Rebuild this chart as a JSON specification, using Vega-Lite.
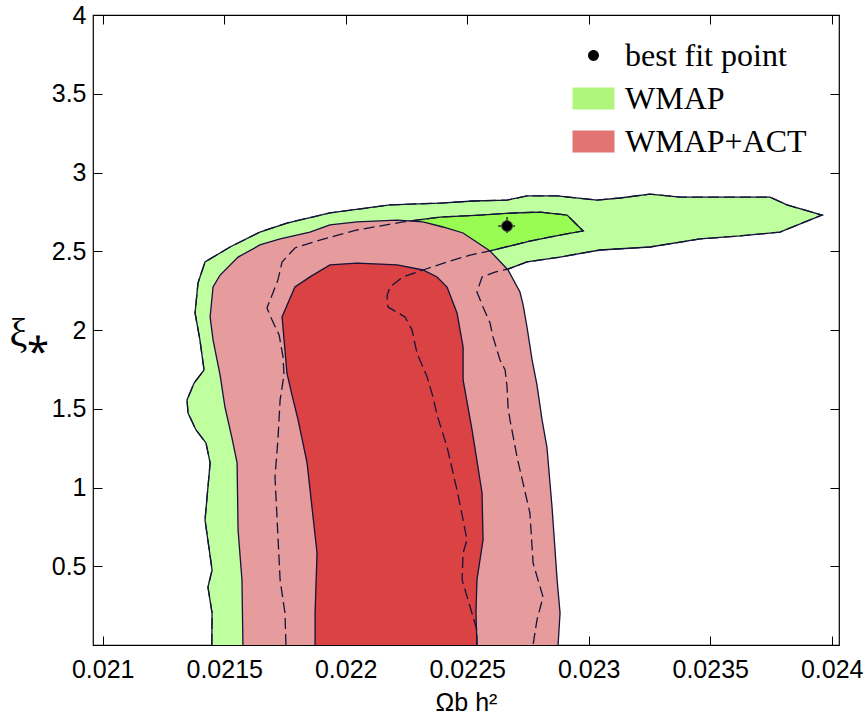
{
  "$schema": "https://vega.github.io/schema/vega-lite/v6.json",
  "width": 746,
  "height": 630,
  "autosize": {"type": "none"},
  "padding": {"left": 93, "top": 15, "right": 27, "bottom": 70},
  "background": "white",
  "datasets": {
    "g95": [
      {"i":1,"x":0.021449,"y":0},{"i":2,"x":0.02145,"y":0.203},{"i":3,"x":0.021433,"y":0.368},{"i":4,"x":0.02145,"y":0.476},
      {"i":5,"x":0.021421,"y":0.794},{"i":6,"x":0.021442,"y":1.156},{"i":7,"x":0.021425,"y":1.283},{"i":8,"x":0.021384,"y":1.365},
      {"i":9,"x":0.021351,"y":1.473},{"i":10,"x":0.021347,"y":1.556},{"i":11,"x":0.021376,"y":1.663},{"i":12,"x":0.021417,"y":1.746},
      {"i":13,"x":0.0214,"y":1.937},{"i":14,"x":0.02138,"y":2.108},{"i":15,"x":0.021392,"y":2.298},{"i":16,"x":0.021421,"y":2.432},
      {"i":17,"x":0.021524,"y":2.527},{"i":18,"x":0.021647,"y":2.622},{"i":19,"x":0.021758,"y":2.679},{"i":20,"x":0.021935,"y":2.743},
      {"i":21,"x":0.022182,"y":2.794},{"i":22,"x":0.022388,"y":2.806},{"i":23,"x":0.022524,"y":2.819},{"i":24,"x":0.022664,"y":2.825},
      {"i":25,"x":0.022746,"y":2.851},{"i":26,"x":0.02287,"y":2.851},{"i":27,"x":0.023034,"y":2.825},{"i":28,"x":0.023129,"y":2.838},
      {"i":29,"x":0.023252,"y":2.863},{"i":30,"x":0.023376,"y":2.844},{"i":31,"x":0.023512,"y":2.844},{"i":32,"x":0.023746,"y":2.844},
      {"i":33,"x":0.023816,"y":2.794},{"i":34,"x":0.02396,"y":2.73},{"i":35,"x":0.023787,"y":2.622},{"i":36,"x":0.023623,"y":2.597},
      {"i":37,"x":0.023458,"y":2.578},{"i":38,"x":0.023252,"y":2.527},{"i":39,"x":0.023046,"y":2.508},{"i":40,"x":0.022882,"y":2.463},
      {"i":41,"x":0.022746,"y":2.432},{"i":42,"x":0.022668,"y":2.387},{"i":43,"x":0.022614,"y":2.368},{"i":44,"x":0.022561,"y":2.337},
      {"i":45,"x":0.02254,"y":2.241},{"i":46,"x":0.022565,"y":2.146},{"i":47,"x":0.022594,"y":2.044},{"i":48,"x":0.022606,"y":1.956},
      {"i":49,"x":0.022635,"y":1.81},{"i":50,"x":0.022656,"y":1.746},{"i":51,"x":0.022664,"y":1.638},{"i":52,"x":0.022668,"y":1.511},
      {"i":53,"x":0.022676,"y":1.429},{"i":54,"x":0.022705,"y":1.194},{"i":55,"x":0.022758,"y":0.838},{"i":56,"x":0.022771,"y":0.521},
      {"i":57,"x":0.022812,"y":0.305},{"i":58,"x":0.022787,"y":0.159},{"i":59,"x":0.022771,"y":0}
    ],
    "g68": [
      {"i":1,"x":0.021754,"y":0},{"i":2,"x":0.02175,"y":0.203},{"i":3,"x":0.02173,"y":0.413},{"i":4,"x":0.021709,"y":1.067},
      {"i":5,"x":0.021721,"y":1.302},{"i":6,"x":0.02173,"y":1.556},{"i":7,"x":0.021746,"y":1.714},{"i":8,"x":0.021742,"y":1.829},
      {"i":9,"x":0.021726,"y":1.968},{"i":10,"x":0.021697,"y":2.063},{"i":11,"x":0.021676,"y":2.14},{"i":12,"x":0.021721,"y":2.317},
      {"i":13,"x":0.021738,"y":2.432},{"i":14,"x":0.021791,"y":2.521},{"i":15,"x":0.021894,"y":2.571},{"i":16,"x":0.022047,"y":2.635},
      {"i":17,"x":0.022236,"y":2.686},{"i":18,"x":0.022388,"y":2.717},{"i":19,"x":0.022553,"y":2.73},{"i":20,"x":0.022689,"y":2.743},
      {"i":21,"x":0.0228,"y":2.749},{"i":22,"x":0.022911,"y":2.73},{"i":23,"x":0.022977,"y":2.629},{"i":24,"x":0.022882,"y":2.603},
      {"i":25,"x":0.022758,"y":2.565},{"i":26,"x":0.022594,"y":2.502},{"i":27,"x":0.022512,"y":2.476},{"i":28,"x":0.022417,"y":2.432},
      {"i":29,"x":0.022318,"y":2.381},{"i":30,"x":0.022236,"y":2.337},{"i":31,"x":0.022182,"y":2.273},{"i":32,"x":0.02217,"y":2.216},
      {"i":33,"x":0.022174,"y":2.146},{"i":34,"x":0.022244,"y":2.083},{"i":35,"x":0.022273,"y":2.0},{"i":36,"x":0.022293,"y":1.854},
      {"i":37,"x":0.022335,"y":1.702},{"i":38,"x":0.022359,"y":1.575},{"i":39,"x":0.022376,"y":1.46},{"i":40,"x":0.022417,"y":1.257},
      {"i":41,"x":0.022458,"y":0.984},{"i":42,"x":0.022483,"y":0.794},{"i":43,"x":0.022499,"y":0.667},{"i":44,"x":0.022483,"y":0.584},
      {"i":45,"x":0.022479,"y":0.413},{"i":46,"x":0.022512,"y":0.241},{"i":47,"x":0.02254,"y":0.095},{"i":48,"x":0.02254,"y":0}
    ],
    "r95": [
      {"i":1,"x":0.021577,"y":0},{"i":2,"x":0.021573,"y":0.413},{"i":3,"x":0.021557,"y":0.73},{"i":4,"x":0.021553,"y":1.156},
      {"i":5,"x":0.021532,"y":1.314},{"i":6,"x":0.021503,"y":1.511},{"i":7,"x":0.021483,"y":1.714},{"i":8,"x":0.021454,"y":1.937},
      {"i":9,"x":0.021442,"y":2.083},{"i":10,"x":0.021454,"y":2.273},{"i":11,"x":0.021483,"y":2.349},{"i":12,"x":0.021557,"y":2.463},
      {"i":13,"x":0.021647,"y":2.54},{"i":14,"x":0.02173,"y":2.578},{"i":15,"x":0.021853,"y":2.622},{"i":16,"x":0.021935,"y":2.667},
      {"i":17,"x":0.022047,"y":2.686},{"i":18,"x":0.022211,"y":2.698},{"i":19,"x":0.022318,"y":2.686},{"i":20,"x":0.0224,"y":2.654},
      {"i":21,"x":0.022483,"y":2.616},{"i":22,"x":0.022594,"y":2.502},{"i":23,"x":0.022668,"y":2.381},{"i":24,"x":0.022717,"y":2.241},
      {"i":25,"x":0.02273,"y":2.159},{"i":26,"x":0.022746,"y":2.019},{"i":27,"x":0.022767,"y":1.81},{"i":28,"x":0.022787,"y":1.651},
      {"i":29,"x":0.022808,"y":1.429},{"i":30,"x":0.022828,"y":1.257},{"i":31,"x":0.022849,"y":0.876},{"i":32,"x":0.02287,"y":0.413},
      {"i":33,"x":0.022882,"y":0.203},{"i":34,"x":0.022874,"y":0}
    ],
    "r68": [
      {"i":1,"x":0.021874,"y":0},{"i":2,"x":0.021874,"y":0.203},{"i":3,"x":0.021882,"y":0.584},{"i":4,"x":0.021841,"y":1.156},
      {"i":5,"x":0.021804,"y":1.429},{"i":6,"x":0.021779,"y":1.587},{"i":7,"x":0.021758,"y":1.727},{"i":8,"x":0.02175,"y":1.873},
      {"i":9,"x":0.021738,"y":2.083},{"i":10,"x":0.021791,"y":2.273},{"i":11,"x":0.021853,"y":2.337},{"i":12,"x":0.021935,"y":2.413},
      {"i":13,"x":0.022047,"y":2.425},{"i":14,"x":0.022211,"y":2.413},{"i":15,"x":0.022318,"y":2.381},{"i":16,"x":0.022376,"y":2.337},
      {"i":17,"x":0.022417,"y":2.273},{"i":18,"x":0.022458,"y":2.108},{"i":19,"x":0.022483,"y":1.892},{"i":20,"x":0.022483,"y":1.683},
      {"i":21,"x":0.02252,"y":1.365},{"i":22,"x":0.022561,"y":0.965},{"i":23,"x":0.022565,"y":0.667},{"i":24,"x":0.02254,"y":0.413},
      {"i":25,"x":0.022536,"y":0.203},{"i":26,"x":0.02254,"y":0}
    ],
    "best": [
      {"s":"best fit point","x":0.022664,"y":2.66,"xlo":0.022627,"xhi":0.022697,"ylo":2.616,"yhi":2.717}
    ]
  },
  "layer": [
    {
      "encoding": {
        "x": {"field":"x","type":"quantitative","scale":{"domain":[0.02096,0.02403],"nice":false,"zero":false},
          "axis":{"values":[0.021,0.0215,0.022,0.0225,0.023,0.0235,0.024],"format":"~g","title":"Ωb h²","tickSize":-9,"labelPadding":21,"titlePadding":8,"labelFlush":false}},
        "y": {"field":"y","type":"quantitative","scale":{"domain":[0,4],"nice":false,"zero":false},
          "axis":{"values":[0.5,1,1.5,2,2.5,3,3.5,4],"format":"~g","title":"ξ⁎","tickSize":-9,"labelPadding":16,"titleAngle":0,"titleAlign":"center","titleBaseline":"middle","titleX":-64,"titleY":318,"titleFont":"Liberation Serif","titleFontSize":40,"labelFlush":false}}
      },
      "layer": [
        {"data":{"name":"g95"},"mark":{"type":"line","fill":"#c0ffa0","stroke":"#c0ffa0","strokeWidth":0.5},"encoding":{"order":{"field":"i","type":"quantitative"}}},
        {"data":{"name":"g68"},"mark":{"type":"line","fill":"#99fc52","stroke":"#99fc52","strokeWidth":0.5},"encoding":{"order":{"field":"i","type":"quantitative"}}},
        {"data":{"name":"g95"},"mark":{"type":"line","stroke":"#14143a","strokeWidth":1.3},"encoding":{"order":{"field":"i","type":"quantitative"}}},
        {"data":{"name":"g68"},"mark":{"type":"line","stroke":"#14143a","strokeWidth":1.3},"encoding":{"order":{"field":"i","type":"quantitative"}}},
        {"data":{"name":"r95"},"mark":{"type":"line","fill":"#e69c9c","stroke":"#e69c9c","strokeWidth":0.5},"encoding":{"order":{"field":"i","type":"quantitative"}}},
        {"data":{"name":"r68"},"mark":{"type":"line","fill":"#db4244","stroke":"#db4244","strokeWidth":0.5},"encoding":{"order":{"field":"i","type":"quantitative"}}},
        {"data":{"name":"g95"},"mark":{"type":"line","stroke":"#14143a","strokeWidth":1.3,"strokeDash":[11,5]},"encoding":{"order":{"field":"i","type":"quantitative"}}},
        {"data":{"name":"g68"},"mark":{"type":"line","stroke":"#14143a","strokeWidth":1.3,"strokeDash":[11,5]},"encoding":{"order":{"field":"i","type":"quantitative"}}},
        {"data":{"name":"r95"},"mark":{"type":"line","stroke":"#14143a","strokeWidth":1.3},"encoding":{"order":{"field":"i","type":"quantitative"}}},
        {"data":{"name":"r68"},"mark":{"type":"line","stroke":"#14143a","strokeWidth":1.3},"encoding":{"order":{"field":"i","type":"quantitative"}}},
        {"data":{"name":"best"},"mark":{"type":"rule","stroke":"#2a3a20","strokeWidth":1.5},"encoding":{"x":{"field":"xlo","type":"quantitative"},"x2":{"field":"xhi"}}},
        {"data":{"name":"best"},"mark":{"type":"rule","stroke":"#2a3a20","strokeWidth":1.5},"encoding":{"y":{"field":"ylo","type":"quantitative"},"y2":{"field":"yhi"}}},
        {"data":{"name":"best"},"mark":{"type":"point","filled":true,"opacity":1,"size":1764,"stroke":"#555555","strokeWidth":1},
          "encoding":{
            "fill":{"field":"s","type":"nominal","scale":{"domain":["best fit point","WMAP","WMAP+ACT"],"range":["#000000","#aef77c","#e27474"]},"title":null},
            "shape":{"field":"s","type":"nominal","scale":{"domain":["best fit point","WMAP","WMAP+ACT"],"range":["M0.26,0A0.26,0.26,0,1,1,-0.26,0A0.26,0.26,0,1,1,0.26,0Z","M-1,-0.524H1V0.524H-1Z","M-1,-0.524H1V0.524H-1Z"]},"title":null}
          }}
      ]
    },
    {
      "data":{"values":[{"x":0.021,"y":0}]},
      "mark":{"type":"point","opacity":0},
      "encoding":{
        "x":{"field":"x","type":"quantitative","scale":{"domain":[0.02096,0.02403],"nice":false,"zero":false},
          "axis":{"orient":"top","values":[0.021,0.0215,0.022,0.0225,0.023,0.0235,0.024],"labels":false,"title":null,"tickSize":-9}},
        "y":{"field":"y","type":"quantitative","scale":{"domain":[0,4],"nice":false,"zero":false},
          "axis":{"orient":"right","values":[0.5,1,1.5,2,2.5,3,3.5,4],"labels":false,"title":null,"tickSize":-9}}
      }
    }
  ],
  "resolve": {"scale": {"x":"independent","y":"independent"}},
  "config": {
    "view": {"stroke":"#000000","strokeWidth":1.2},
    "axis": {
      "domain": false, "grid": false,
      "tickColor":"#000000","tickWidth":1,
      "labelFont":"Liberation Sans","labelFontSize":25,"labelColor":"#000000",
      "titleFont":"Liberation Sans","titleFontSize":25,"titleFontWeight":"normal","titleColor":"#000000"
    },
    "legend": {
      "orient":"none","legendX":479,"legendY":19,"padding":0,
      "labelFont":"Liberation Serif","labelFontSize":32,"labelColor":"#000000","labelOffset":10,"labelLimit":400,
      "symbolSize":1764,"symbolStrokeColor":"#555555","symbolStrokeWidth":1,"rowPadding":5,"symbolOpacity":1
    }
  }
}
